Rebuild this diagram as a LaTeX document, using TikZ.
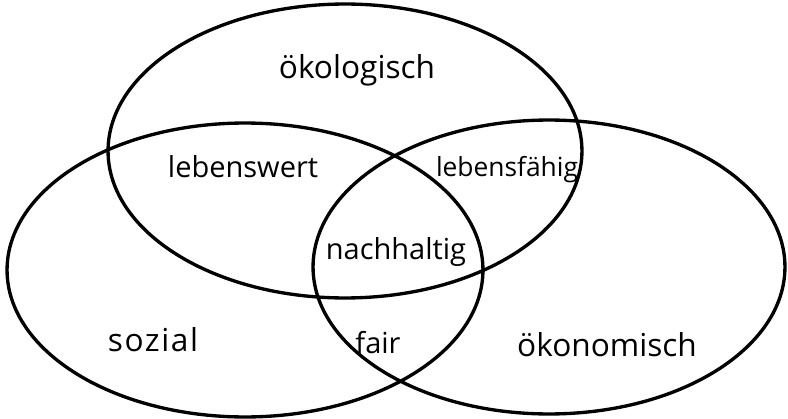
\documentclass[tikz,border=0pt]{standalone}
\usepackage{fontspec}
\setmainfont{Open Sans}
\begin{document}
\begin{tikzpicture}[x=0.02cm, y=-0.02cm,
  kreis/.style={line width=1.9pt},
  wort/.style={font=\fontsize{16.5}{19}\selectfont, inner sep=0pt},
  gross/.style={font=\fontsize{18}{21}\selectfont, inner sep=0pt}]
  \useasboundingbox (0,0) rectangle (788,419);

  %% --- drei Ellipsen ---
  \draw[kreis] (345,151) ellipse [x radius=4.74cm, y radius=2.94cm];
  \draw[kreis] (245,270) ellipse [x radius=4.76cm, y radius=2.94cm];
  \draw[kreis] (549,267) ellipse [x radius=4.72cm, y radius=2.94cm];

  %% --- Bereiche ---
  \node[gross] (oeko) at (357,70) {ökologisch};
  \node[gross] (sozi) at (153,340) {\addfontfeature{LetterSpace=5}sozial};
  \node[gross] (oekn) at (607,345) {ökonomisch};

  %% --- Schnittmengen ---
  \node[wort] (lwert) at (243,167) {lebenswert};
  \node[wort, font=\fontsize{15}{18}\selectfont] (lfaeh) at (507,170) {lebensfähig};
  \node[wort] (fair) at (378,343) {fair};
  \node[wort] (nach) at (396,252) {nachhaltig};
\end{tikzpicture}
\end{document}
